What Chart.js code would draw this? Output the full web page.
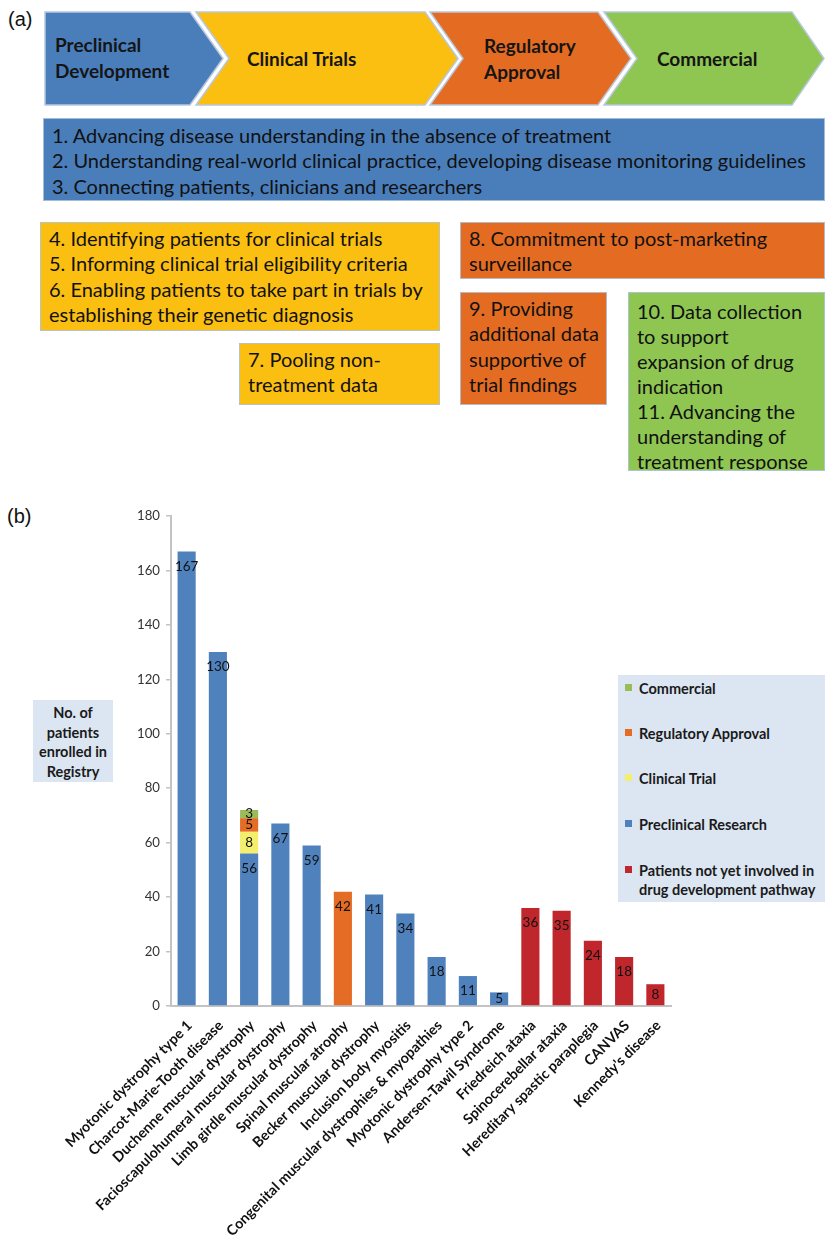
<!DOCTYPE html>
<html>
<head>
<meta charset="utf-8">
<script src="https://cdn.jsdelivr.net/npm/chart.js@4.4.1/dist/chart.umd.min.js"></script>
<style>
  html, body { margin: 0; padding: 0; background: #fff; }
  #page { position: relative; width: 825px; height: 1239px; overflow: hidden; font-family: Lato, sans-serif; }
  .tag { position: absolute; font-family: 'Liberation Sans', Arial, sans-serif; font-size: 20px; color: #111; }
  .box { position: absolute; box-sizing: border-box; font-size: 20px; line-height: 25.4px; color: #111;
         border: 1px solid rgba(175, 195, 220, 0.9); white-space: nowrap; padding-left: 8px; overflow: hidden; }
  .blue { background: #4a7ebb; }
  .yellow { background: #fbbf12; }
  .orange { background: #e46c22; }
  .green { background: #8fc652; }
  #ytitle { position: absolute; left: 33px; top: 700px; width: 80px; height: 82px; background: #dce6f2;
            font-weight: bold; font-size: 14.5px; line-height: 19.5px; text-align: center; color: #1a1a1a;
            box-sizing: border-box; padding-top: 3px; white-space: nowrap; }
  #legend { position: absolute; left: 618px; top: 675px; width: 207px; height: 227px; background: #dce6f2; }
  .lg-item { position: absolute; left: 7px; font-weight: bold; font-size: 14.5px; line-height: 19px; color: #1a1a1a; }
  .lg-sw { position: absolute; left: 0; top: 5px; width: 7px; height: 7px; }
  .lg-text { position: absolute; left: 14px; top: 0; white-space: nowrap; }
  #chartWrap { position: absolute; left: 0; top: 500px; width: 825px; height: 739px; }
</style>
</head>
<body>
<div id="page">
  <div class="tag" style="left:8px; top:8px;">(a)</div>

  <svg width="825" height="110" style="position:absolute;left:0;top:0;">
    <g stroke="#b7c8de" stroke-width="1.5" stroke-linejoin="miter">
      <polygon points="45,12 190,12 223,58.5 190,105 45,105" fill="#4a7ebb"/>
      <polygon points="196,12 425,12 458,58.5 425,105 196,105 229,58.5" fill="#fbbf12"/>
      <polygon points="430,12 598,12 631,58.5 598,105 430,105 463,58.5" fill="#e46c22"/>
      <polygon points="604,12 792,12 824,58.5 792,105 604,105 637,58.5" fill="#8fc652"/>
    </g>
    <g font-family="Lato, sans-serif" font-weight="bold" font-size="19" fill="#151515" dominant-baseline="middle">
      <text x="55" y="47">Preclinical</text>
      <text x="55" y="73">Development</text>
      <text x="247" y="61">Clinical Trials</text>
      <text x="484" y="48">Regulatory</text>
      <text x="484" y="74">Approval</text>
      <text x="657" y="61">Commercial</text>
    </g>
  </svg>

  <div class="box blue" style="left:43px; top:118px; width:782px; height:83px; padding-top:4px;">
    1. Advancing disease understanding in the absence of treatment<br>
    2. Understanding real-world clinical practice, developing disease monitoring guidelines<br>
    3. Connecting patients, clinicians and researchers
  </div>
  <div class="box yellow" style="left:40px; top:222px; width:400px; height:109px; padding-top:3px;">
    4. Identifying patients for clinical trials<br>
    5. Informing clinical trial eligibility criteria<br>
    6. Enabling patients to take part in trials by<br>
    establishing their genetic diagnosis
  </div>
  <div class="box orange" style="left:460px; top:222px; width:365px; height:57px; padding-top:3px;">
    8. Commitment to post-marketing<br>
    surveillance
  </div>
  <div class="box yellow" style="left:239px; top:343px; width:201px; height:62px; padding-top:3px;">
    7. Pooling non-<br>
    treatment data
  </div>
  <div class="box orange" style="left:460px; top:292px; width:147px; height:113px; padding-top:3px;">
    9. Providing<br>
    additional data<br>
    supportive of<br>
    trial findings
  </div>
  <div class="box green" style="left:628px; top:292px; width:197px; height:179px; padding-top:6px; line-height:25px;">
    10. Data collection<br>
    to support<br>
    expansion of drug<br>
    indication<br>
    11. Advancing the<br>
    understanding of<br>
    treatment response
  </div>

  <div class="tag" style="left:7px; top:505px;">(b)</div>

  <div id="chartWrap"><canvas id="chart" width="825" height="739"></canvas></div>

  <div id="ytitle">No. of<br>patients<br>enrolled in<br>Registry</div>
  <div id="legend"></div>
</div>

<script>
// Diseases on the x axis, in plotted order
const categories = [
  'Myotonic dystrophy type 1',
  'Charcot-Marie-Tooth disease',
  'Duchenne muscular dystrophy',
  'Facioscapulohumeral muscular dystrophy',
  'Limb girdle muscular dystrophy',
  'Spinal muscular atrophy',
  'Becker muscular dystrophy',
  'Inclusion body myositis',
  'Congenital muscular dystrophies & myopathies',
  'Myotonic dystrophy type 2',
  'Andersen-Tawil Syndrome',
  'Friedreich ataxia',
  'Spinocerebellar ataxia',
  'Hereditary spastic paraplegia',
  'CANVAS',
  "Kennedy's disease"
];

// Patients enrolled per stage of the drug development pathway
const preclinicalResearch = [167, 130, 56, 67, 59, null, 41, 34, 18, 11, 5, null, null, null, null, null];
const clinicalTrial       = [null, null, 8, null, null, null, null, null, null, null, null, null, null, null, null, null];
const regulatoryApproval  = [null, null, 5, null, null, 42, null, null, null, null, null, null, null, null, null, null];
const commercial          = [null, null, 3, null, null, null, null, null, null, null, null, null, null, null, null, null];
const notYetInvolved      = [null, null, null, null, null, null, null, null, null, null, null, 36, 35, 24, 18, 8];

const yTickMax = 180;
const yTickStep = 20;

const seriesNames = [
  'Preclinical Research',
  'Clinical Trial',
  'Regulatory Approval',
  'Commercial',
  'Patients not yet involved in drug development pathway'
];
const seriesColors = ['#4f81bd', '#f3ee6b', '#e46c24', '#9bbb59', '#c0272d'];
const seriesValues = [preclinicalResearch, clinicalTrial, regulatoryApproval, commercial, notYetInvolved];

// Value labels drawn inside each bar segment
const valueLabels = {
  id: 'valueLabels',
  afterDatasetsDraw(chart) {
    const ctx = chart.ctx;
    ctx.save();
    ctx.font = '13.5px Lato, sans-serif';
    ctx.fillStyle = '#111';
    ctx.textAlign = 'center';
    ctx.textBaseline = 'middle';
    chart.data.datasets.forEach((ds, i) => {
      const meta = chart.getDatasetMeta(i);
      meta.data.forEach((bar, j) => {
        const v = ds.data[j];
        if (v == null) return;
        const p = bar.getProps(['x', 'y', 'base'], true);
        const top = Math.min(p.y, p.base);
        const bottom = Math.max(p.y, p.base);
        const y = Math.min(top + 15, (top + bottom) / 2);
        ctx.fillText(String(v), p.x, y);
      });
    });
    ctx.restore();
  }
};

new Chart(document.getElementById('chart'), {
  type: 'bar',
  data: {
    labels: categories,
    datasets: seriesNames.map((name, i) => ({
      label: name,
      data: seriesValues[i],
      backgroundColor: seriesColors[i],
      borderWidth: 0,
      categoryPercentage: 1,
      barPercentage: 0.58
    }))
  },
  options: {
    responsive: false,
    animation: false,
    devicePixelRatio: 1,
    layout: { padding: { top: 16, right: 154, left: 0, bottom: 0 } },
    plugins: { legend: { display: false }, tooltip: { enabled: false } },
    scales: {
      x: {
        stacked: true,
        grid: { display: false, drawTicks: false },
        border: { display: true, color: '#c3c3c3', width: 2 },
        ticks: {
          autoSkip: false, minRotation: 45, maxRotation: 45,
          font: { family: 'Lato', weight: 'bold', size: 14.3 },
          color: '#111', padding: 11, labelOffset: 3
        },
        afterFit(axis) { axis.height = 233; }
      },
      y: {
        stacked: true, min: 0, max: yTickMax,
        ticks: { stepSize: yTickStep, font: { family: 'Lato', size: 13.2 }, color: '#333', padding: 6 },
        grid: { display: true, drawOnChartArea: false, drawTicks: true, tickLength: 5, color: '#c3c3c3', lineWidth: 1.5 },
        border: { display: true, color: '#c3c3c3', width: 2 },
        afterFit(axis) { axis.width = 171; }
      }
    }
  },
  plugins: [valueLabels]
});

// Legend, listed top-down from the last stage back to the first
const legendOrder = [3, 2, 1, 0, 4];
const legendTops = [4, 49, 94, 140, 186];
const legend = document.getElementById('legend');
legendOrder.forEach((idx, k) => {
  const item = document.createElement('div');
  item.className = 'lg-item';
  item.style.top = legendTops[k] + 'px';
  const sw = document.createElement('div');
  sw.className = 'lg-sw';
  sw.style.background = seriesColors[idx];
  const tx = document.createElement('div');
  tx.className = 'lg-text';
  tx.innerHTML = idx === 4 ? 'Patients not yet involved in<br>drug development pathway' : seriesNames[idx];
  item.appendChild(sw);
  item.appendChild(tx);
  legend.appendChild(item);
});
</script>
</body>
</html>
